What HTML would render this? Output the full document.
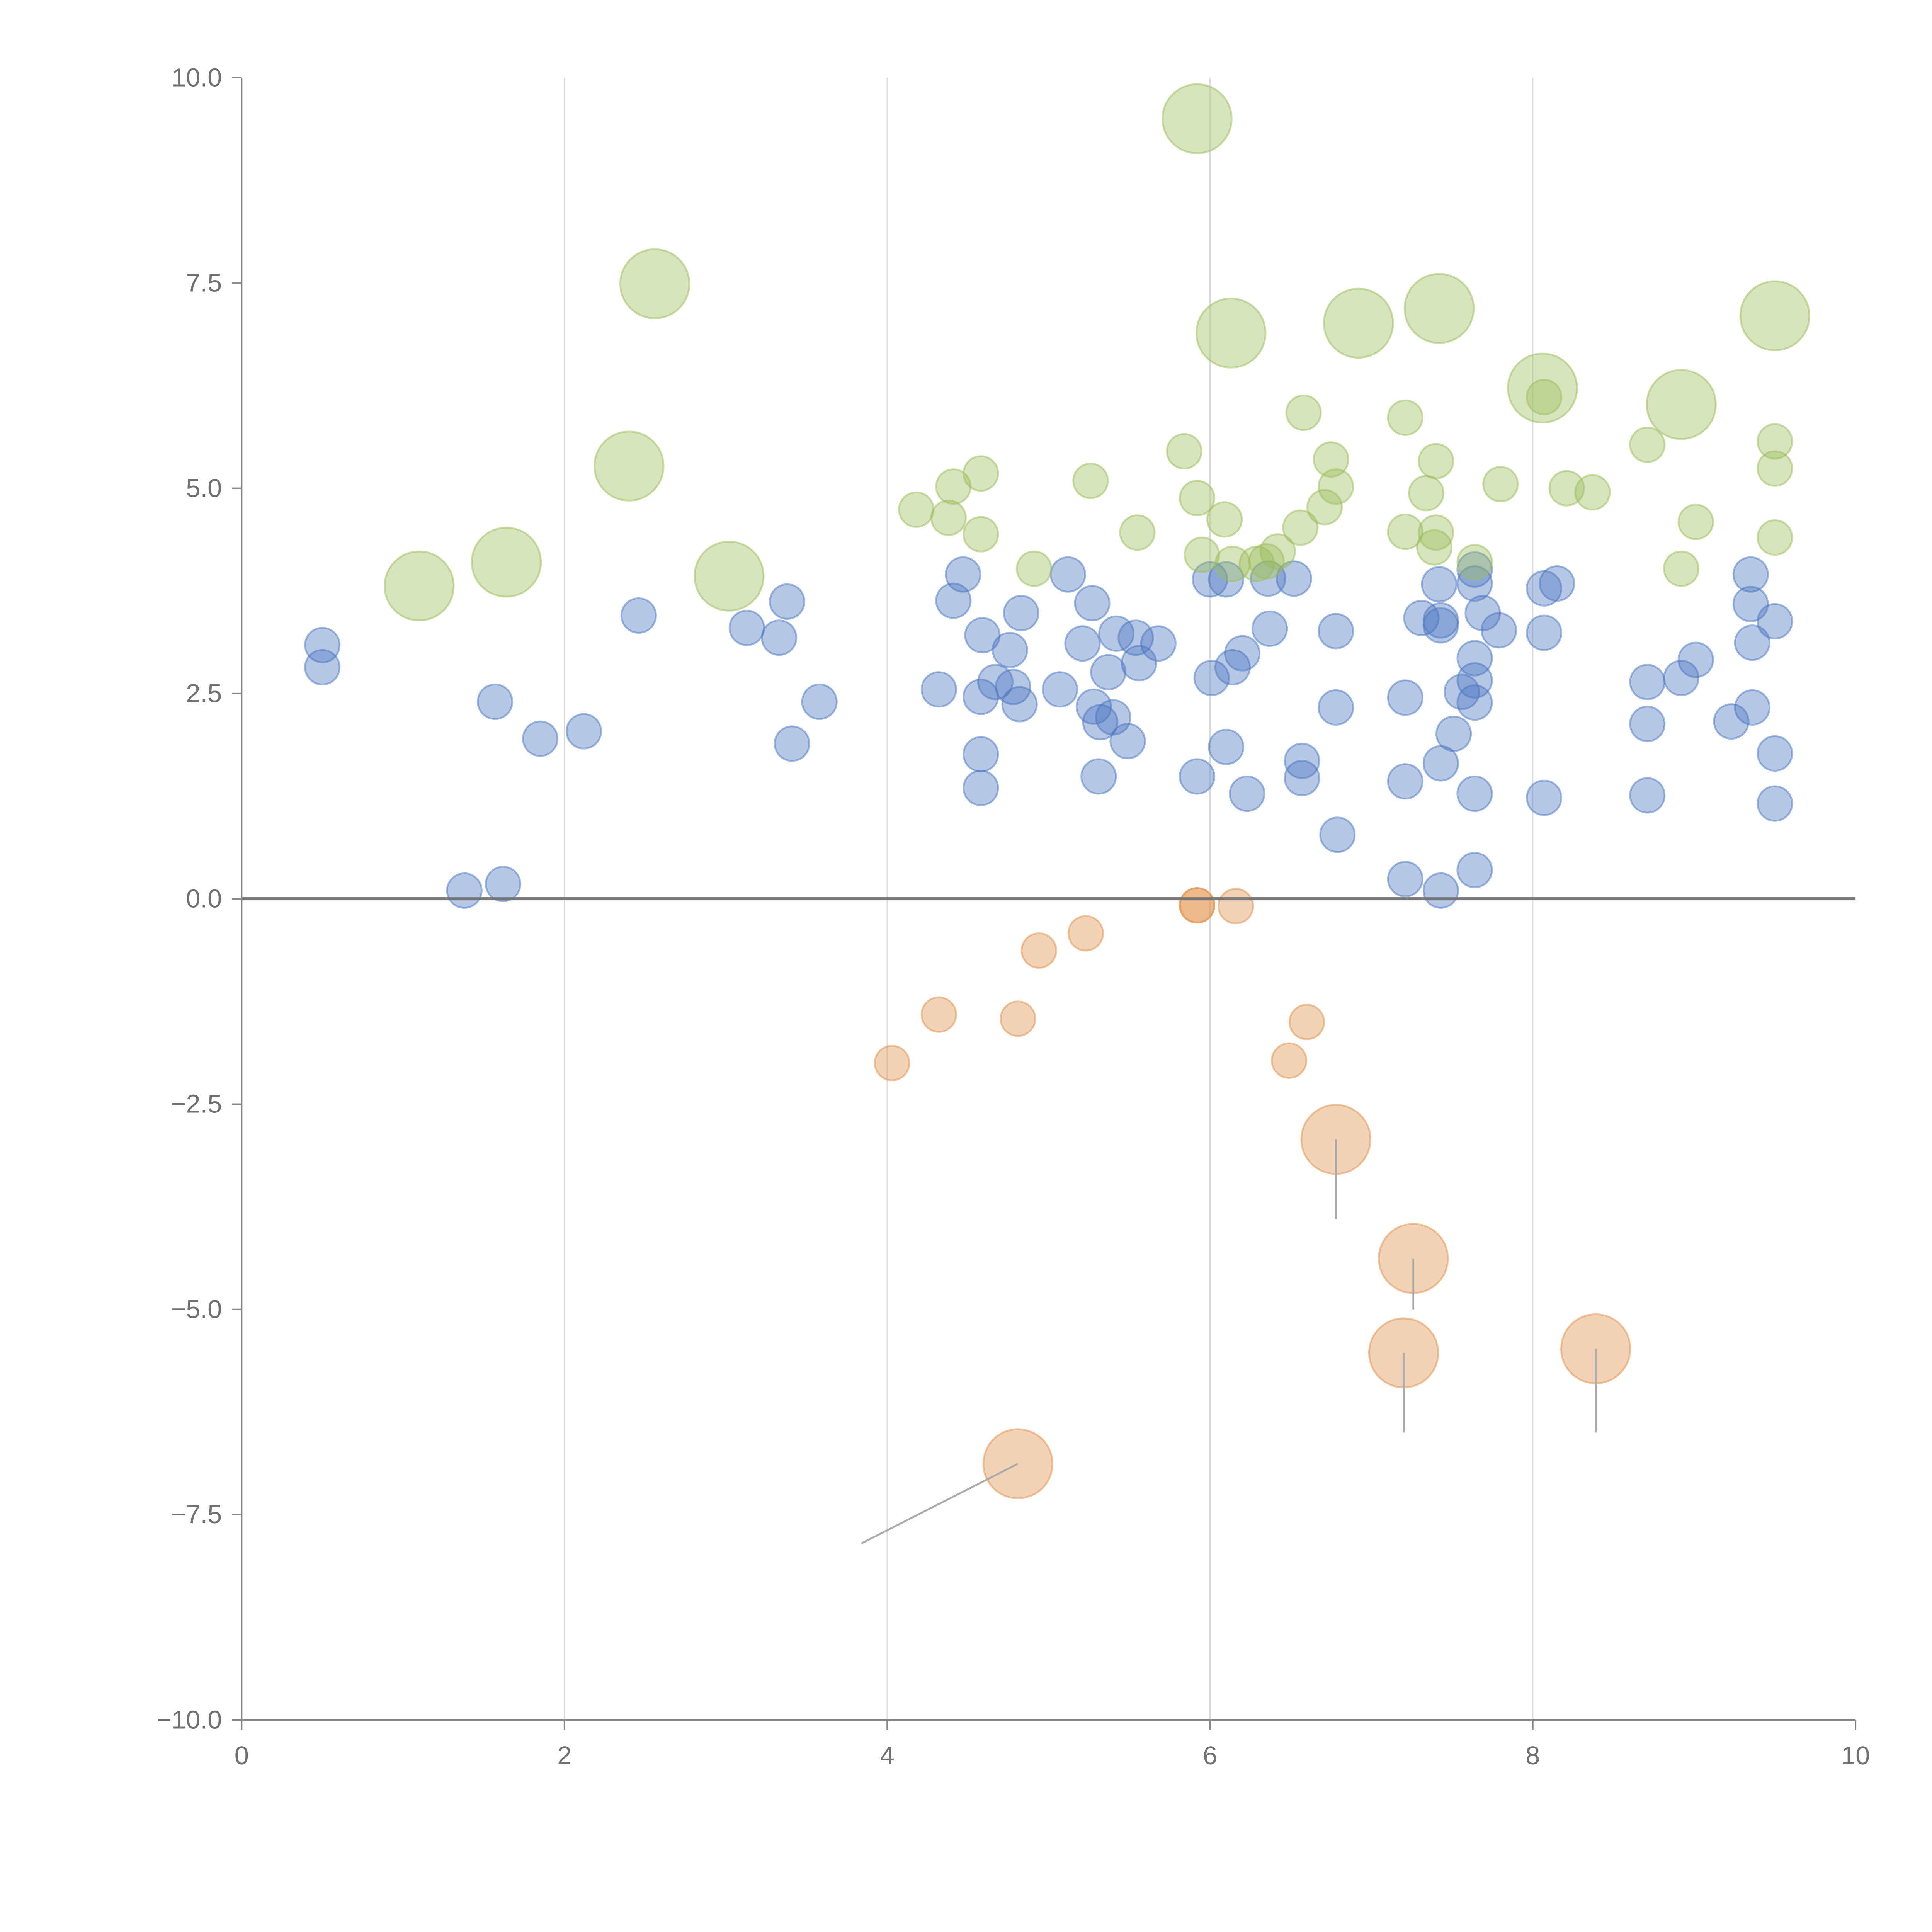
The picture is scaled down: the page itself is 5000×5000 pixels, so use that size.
<!DOCTYPE html>
<html><head><meta charset="utf-8"><style>
html,body{margin:0;padding:0;background:#fff;}
svg{display:block;}
text{font-family:"Liberation Sans",sans-serif;fill:#707070;}
</style></head><body>
<svg id="chart" width="5000" height="5000" viewBox="0 0 1567 1567" xmlns="http://www.w3.org/2000/svg">
<g id="grid"></g>
<g id="marks"></g>
<g id="axes"></g>
</svg>
<script>
const xTicks=[0,2,4,6,8,10];
const yTicks=[10,7.5,5,2.5,0,-2.5,-5,-7.5,-10];
const yTickLabels=["10.0","7.5","5.0","2.5","0.0","\u22122.5","\u22125.0","\u22127.5","\u221210.0"];
const blueX=[0.5,0.5,1.57,1.85,2.12,1.38,1.62,2.46,3.13,3.33,3.38,3.41,3.58,4.32,4.41,4.47,4.59,4.58,4.67,4.58,4.58,4.76,4.83,4.78,4.82,5.07,5.12,5.21,5.27,5.28,5.32,5.4,5.37,5.42,5.54,5.56,5.68,5.49,5.31,5.92,6.01,6.0,6.1,6.1,6.14,6.2,6.23,6.36,6.37,6.52,6.57,6.57,6.78,6.78,6.79,7.21,7.21,7.21,7.31,7.42,7.43,7.43,7.43,7.43,7.51,7.56,7.64,7.64,7.64,7.64,7.64,7.64,7.64,7.69,7.79,8.07,8.15,8.07,8.07,8.71,8.71,8.71,8.92,9.01,9.23,9.36,9.36,9.35,9.35,9.5,9.5,9.5];
const blueY=[3.09,2.82,2.4,1.95,2.04,0.1,0.18,3.45,3.3,3.18,3.62,1.89,2.4,2.55,3.63,3.95,3.21,2.46,2.64,1.76,1.35,3.03,3.48,2.58,2.37,2.55,3.95,3.11,3.6,2.34,2.15,2.21,2.76,3.23,3.18,2.87,3.11,1.92,1.49,1.49,2.69,3.89,3.89,1.85,2.82,2.99,1.28,3.9,3.29,3.9,1.68,1.47,3.26,2.33,0.78,2.45,1.43,0.24,3.42,3.83,3.39,3.33,1.65,0.1,2.01,2.52,2.93,2.66,2.39,1.28,0.35,4.01,3.84,3.48,3.27,3.78,3.84,3.24,1.23,2.64,2.13,1.26,2.69,2.91,2.16,2.33,3.12,3.95,3.59,3.38,1.77,1.16];
const greenSmallX=[4.18,4.41,4.38,4.58,4.58,4.91,5.26,5.55,5.84,5.92,5.95,6.09,6.14,6.29,6.35,6.42,6.56,6.58,6.71,6.75,6.78,7.21,7.21,7.34,7.4,7.4,7.39,7.64,7.8,8.07,8.21,8.37,8.71,8.92,9.01,9.5,9.5,9.5];
const greenSmallY=[4.74,5.02,4.64,5.18,4.44,4.02,5.09,4.46,5.45,4.88,4.19,4.62,4.08,4.08,4.11,4.23,4.52,5.92,4.77,5.35,5.02,5.86,4.47,4.94,5.33,4.46,4.28,4.1,5.05,6.11,5.0,4.95,5.53,4.02,4.59,5.57,5.24,4.4];
const greenLargeX=[1.1,1.64,2.4,2.56,3.02,5.92,6.13,6.92,7.42,8.06,8.92,9.5];
const greenLargeY=[3.81,4.1,5.27,7.49,3.93,9.5,6.89,7.01,7.19,6.22,6.02,7.1];
const orangeSmallX=[4.03,4.32,4.81,4.94,5.23,5.92,5.92,6.16,6.49,6.6];
const orangeSmallY=[-2.0,-1.41,-1.46,-0.63,-0.42,-0.08,-0.08,-0.09,-1.97,-1.5];
const orangeLargeX=[6.78,7.26,7.2,8.39,4.81];
const orangeLargeY=[-2.93,-4.38,-5.53,-5.48,-6.88];
const orangeLabelX=[6.78,7.26,7.2,8.39,3.84];
const orangeLabelY=[-3.9,-5.0,-6.5,-6.5,-7.85];

const X0=196,X1=1505,Y0=1395,Y1=63;
const sx=v=>X0+(v-0)/(10-0)*(X1-X0);
const sy=v=>Y0-(v+10)/20*(Y0-Y1);
const NS="http://www.w3.org/2000/svg";
function mk(tag,attrs,parent){const e=document.createElementNS(NS,tag);for(const k in attrs)e.setAttribute(k,attrs[k]);parent.appendChild(e);return e;}
const grid=document.getElementById('grid'),marks=document.getElementById('marks'),axes=document.getElementById('axes');

xTicks.forEach(t=>{
  if(t>0&&t<10){const l=mk('line',{x1:sx(t),x2:sx(t),y1:Y1,y2:Y0,stroke:'#ddd','stroke-width':1},grid);
  
  }
});

function dots(xs,ys,r,color,name){
  xs.forEach((x,i)=>{
    const c=mk('circle',{cx:sx(x),cy:sy(ys[i]),r:r,fill:color,'fill-opacity':0.4,stroke:color,'stroke-opacity':0.5,'stroke-width':1.5},marks);
    
    
  });
}
dots(blueX,blueY,14,'#4a76c0','blue-point');
dots(greenSmallX,greenSmallY,14,'#9bbb59','green-point');
dots(greenLargeX,greenLargeY,28,'#9bbb59','green-large-point');
dots(orangeSmallX,orangeSmallY,14,'#e0904a','orange-point');
dots(orangeLargeX,orangeLargeY,28,'#e0904a','orange-large-point');
orangeLargeX.forEach((x,i)=>{
  const l=mk('line',{x1:sx(x),y1:sy(orangeLargeY[i]),x2:sx(orangeLabelX[i]),y2:sy(orangeLabelY[i]),stroke:'#aaa','stroke-width':1.5},marks);
  
  
});

const zl=mk('line',{x1:X0,x2:X1,y1:sy(0),y2:sy(0),stroke:'#777','stroke-width':2.5},axes);


const ya=mk('line',{x1:X0,x2:X0,y1:Y1,y2:Y0,stroke:'#888','stroke-width':1.2},axes);


const xa=mk('line',{x1:X0,x2:X1,y1:Y0,y2:Y0,stroke:'#888','stroke-width':1.2},axes);


xTicks.forEach(t=>{
  const tk=mk('line',{x1:sx(t),x2:sx(t),y1:Y0,y2:Y0+8,stroke:'#888','stroke-width':1.2},axes);
  
  
  const tx=mk('text',{x:sx(t),y:Y0+36,'text-anchor':'middle','font-size':21},axes);
  tx.textContent=String(t);
  
  
});
yTicks.forEach((t,i)=>{
  const tk=mk('line',{x1:X0-8,x2:X0,y1:sy(t),y2:sy(t),stroke:'#888','stroke-width':1.2},axes);
  
  
  const tx=mk('text',{x:X0-16,y:sy(t)+7,'text-anchor':'end','font-size':21},axes);
  tx.textContent=yTickLabels[i];
  
  
});
</script>
</body></html>
